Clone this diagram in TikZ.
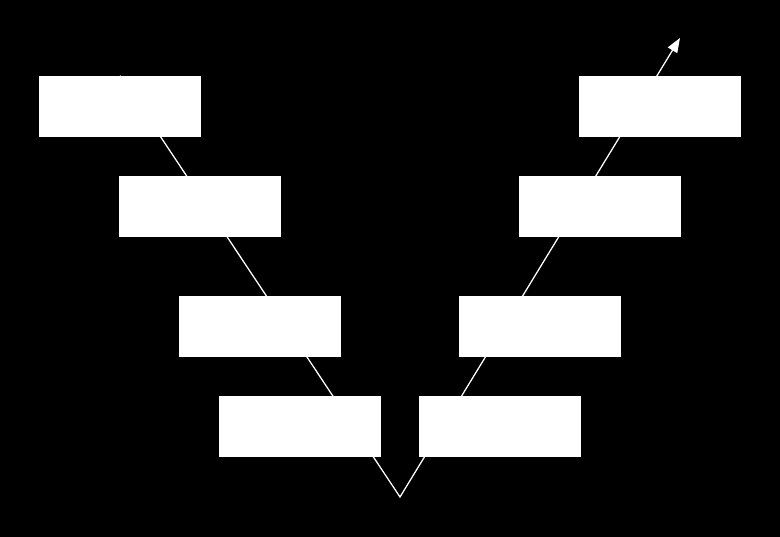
\documentclass[tikz,border=0pt]{standalone}
\usetikzlibrary{arrows.meta}
\pgfdeclarelayer{bg}
\pgfdeclarelayer{mid}
\pgfsetlayers{bg,mid,main}
\tikzset{
  vbox/.style={fill=white,draw=none,minimum width=4.05cm,minimum height=1.525cm,inner sep=0pt},
  vline/.style={white,line width=0.9pt}
}
\begin{document}
\begin{tikzpicture}
\newcommand\picw{19.5}
\newcommand\pich{13.425}
\begin{pgfonlayer}{bg}
\fill[black] (0,0) rectangle (\picw,\pich);
\end{pgfonlayer}
\useasboundingbox (0,0) rectangle (\picw,\pich);

% left arm
\foreach \n/\x/\y in {l1/3.0/10.7625, l2/5.0/8.2625, l3/6.5/5.2625, l4/7.5/2.7625}{
\node[vbox] (\n) at (\x,\y) {};
}
% right arm
\foreach \n/\x/\y in {r4/12.5/2.7625, r3/13.5/5.2625, r2/15.0/8.2625, r1/16.5/10.7625}{
\node[vbox] (\n) at (\x,\y) {};
}

\coordinate (vtx) at (10,1.0);
\coordinate (tip) at (17,12.475);

\begin{pgfonlayer}{mid}
\draw[vline,-{Triangle[length=3.6mm,width=2.7mm]}] (l1.north) -- (vtx) -- (tip);
\end{pgfonlayer}

\end{tikzpicture}
\end{document}
